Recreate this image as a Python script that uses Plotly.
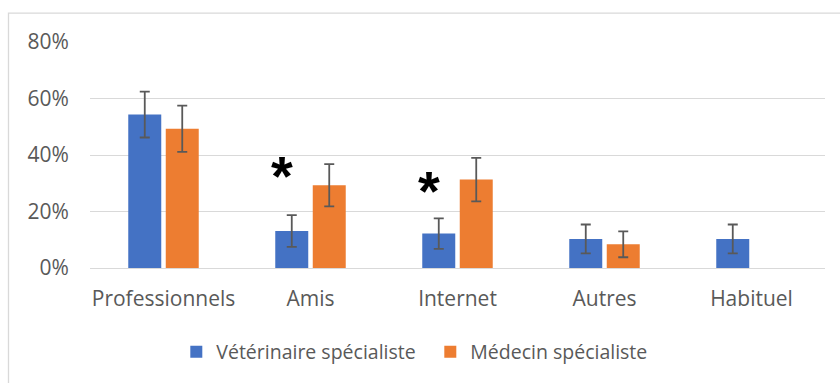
import plotly.graph_objects as go

categories = ["Professionnels", "Amis", "Internet", "Autres", "Habituel"]
veterinaire = [0.543, 0.131, 0.122, 0.103, 0.103]
veterinaire_err = [0.081, 0.056, 0.054, 0.051, 0.051]
medecin = [0.493, 0.293, 0.313, 0.084, None]
medecin_err = [0.082, 0.075, 0.077, 0.046, None]
significant = ["Amis", "Internet"]
asterisk_y = [0.353, 0.300]

FONT = "Open Sans"
TXT = "#595959"
SIZE = 21

fig = go.Figure()
fig.add_trace(go.Bar(
    x=categories, y=veterinaire, name="Vétérinaire spécialiste",
    marker=dict(color="#4472C4", line=dict(width=0)),
    error_y=dict(type="data", array=veterinaire_err, color="#595959", thickness=1.8, width=5),
))
fig.add_trace(go.Bar(
    x=categories, y=medecin, name="Médecin spécialiste",
    marker=dict(color="#ED7D31", line=dict(width=0)),
    error_y=dict(type="data", array=medecin_err, color="#595959", thickness=1.8, width=5),
))

for cat, yv in zip(significant, asterisk_y):
    fig.add_annotation(
        x=cat, y=yv, text="<b>*</b>", showarrow=False,
        xshift=-29, yshift=-7, font=dict(family="Liberation Sans", size=56, color="black"),
        yanchor="middle",
    )

# outer chart frame
fig.add_shape(type="rect", xref="paper", yref="paper",
              x0=-0.1109, x1=1.2, y0=-1.0, y1=1.128,
              line=dict(color="#D9D9D9", width=1.3), fillcolor="rgba(0,0,0,0)", layer="below")

fig.update_layout(
    width=840, height=383,
    margin=dict(l=90, r=15, t=42, b=115),
    paper_bgcolor="white", plot_bgcolor="white",
    barmode="group", bargap=0.49, bargroupgap=0.12,
    font=dict(family=FONT, size=SIZE, color=TXT),
    showlegend=True,
    legend=dict(orientation="h", x=0.463, xanchor="center", y=-0.372, yanchor="middle",
                font=dict(family=FONT, size=19.5, color=TXT), itemwidth=30,
                entrywidth=209, entrywidthmode="pixels",
                traceorder="normal"),
    xaxis=dict(showgrid=False, showline=False, ticks="outside", ticklen=12,
               tickcolor="rgba(0,0,0,0)", tickfont=dict(family=FONT, size=SIZE, color=TXT)),
    yaxis=dict(range=[0, 0.8], dtick=0.2, tickformat=".0%", showgrid=True,
               gridcolor="#D9D9D9", gridwidth=1.3, zeroline=True, zerolinecolor="#D9D9D9",
               zerolinewidth=1.3, showline=False, ticks="outside", ticklen=16,
               tickcolor="rgba(0,0,0,0)", tickfont=dict(family=FONT, size=SIZE, color=TXT)),
)

fig.write_html("out.html")
